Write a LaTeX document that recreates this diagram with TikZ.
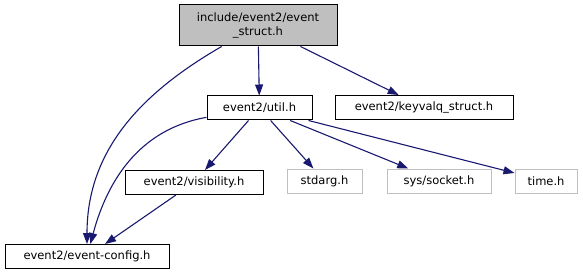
\documentclass[tikz,border=0pt]{standalone}
\usepackage{fontspec}
\setmainfont{DejaVu Sans}
\usetikzlibrary{arrows.meta}
\definecolor{edgeblue}{RGB}{25, 25, 112}
\definecolor{boxgray}{RGB}{191, 191, 191}

\begin{document}
\begin{tikzpicture}[
    x=1pt, y=1pt,
    font=\fontsize{11.5}{14}\selectfont,
    file/.style={draw=#1, fill=white, line width=1pt, minimum height=24pt, inner sep=0pt},
    file/.default=black,
    inc/.style={draw=edgeblue, line width=1.1pt, -{Triangle[length=11pt, width=8pt]}}
]
    \useasboundingbox (0, 0) rectangle (583, 276);

    % ==========================================
    % FILES (top row, middle row, bottom row)
    % ==========================================
    \node[file, fill=boxgray, minimum width=158pt, minimum height=41pt, align=center]
        (struct) at (258, 250.5) {include/event2/event\\\_struct.h};

    \node[file, minimum width=105pt] (util)    at (259.5, 168)  {event2/util.h};
    \node[file, minimum width=178pt] (keyvalq) at (424, 168.5)  {event2/keyvalq\_struct.h};

    \node[file, minimum width=138pt]       (visib)  at (194, 93.5) {event2/visibility.h};
    \node[file=boxgray, minimum width=75pt]  (stdarg) at (324.5, 95) {stdarg.h};
    \node[file=boxgray, minimum width=104pt] (socket) at (439, 95)   {sys/socket.h};
    \node[file=boxgray, minimum width=62pt]  (time)   at (546, 95)   {time.h};

    \node[file, minimum width=164pt] (config) at (87, 19.5) {event2/event-config.h};

    % ==========================================
    % INCLUDES
    % ==========================================
    % from event_struct.h
    \draw[inc] (struct) -- (util);
    \draw[inc] (struct) -- (keyvalq);
    \draw[inc] (struct) to[out=210, in=90] (config);

    % from util.h
    \draw[inc] (util) to[out=190, in=75] (config);
    \draw[inc] (util) -- (visib);
    \draw[inc] (util) -- (stdarg);
    \draw[inc] (util) -- (socket);
    \draw[inc] (util) -- (time);

    % from visibility.h
    \draw[inc] (visib) -- (config);

\end{tikzpicture}
\end{document}
